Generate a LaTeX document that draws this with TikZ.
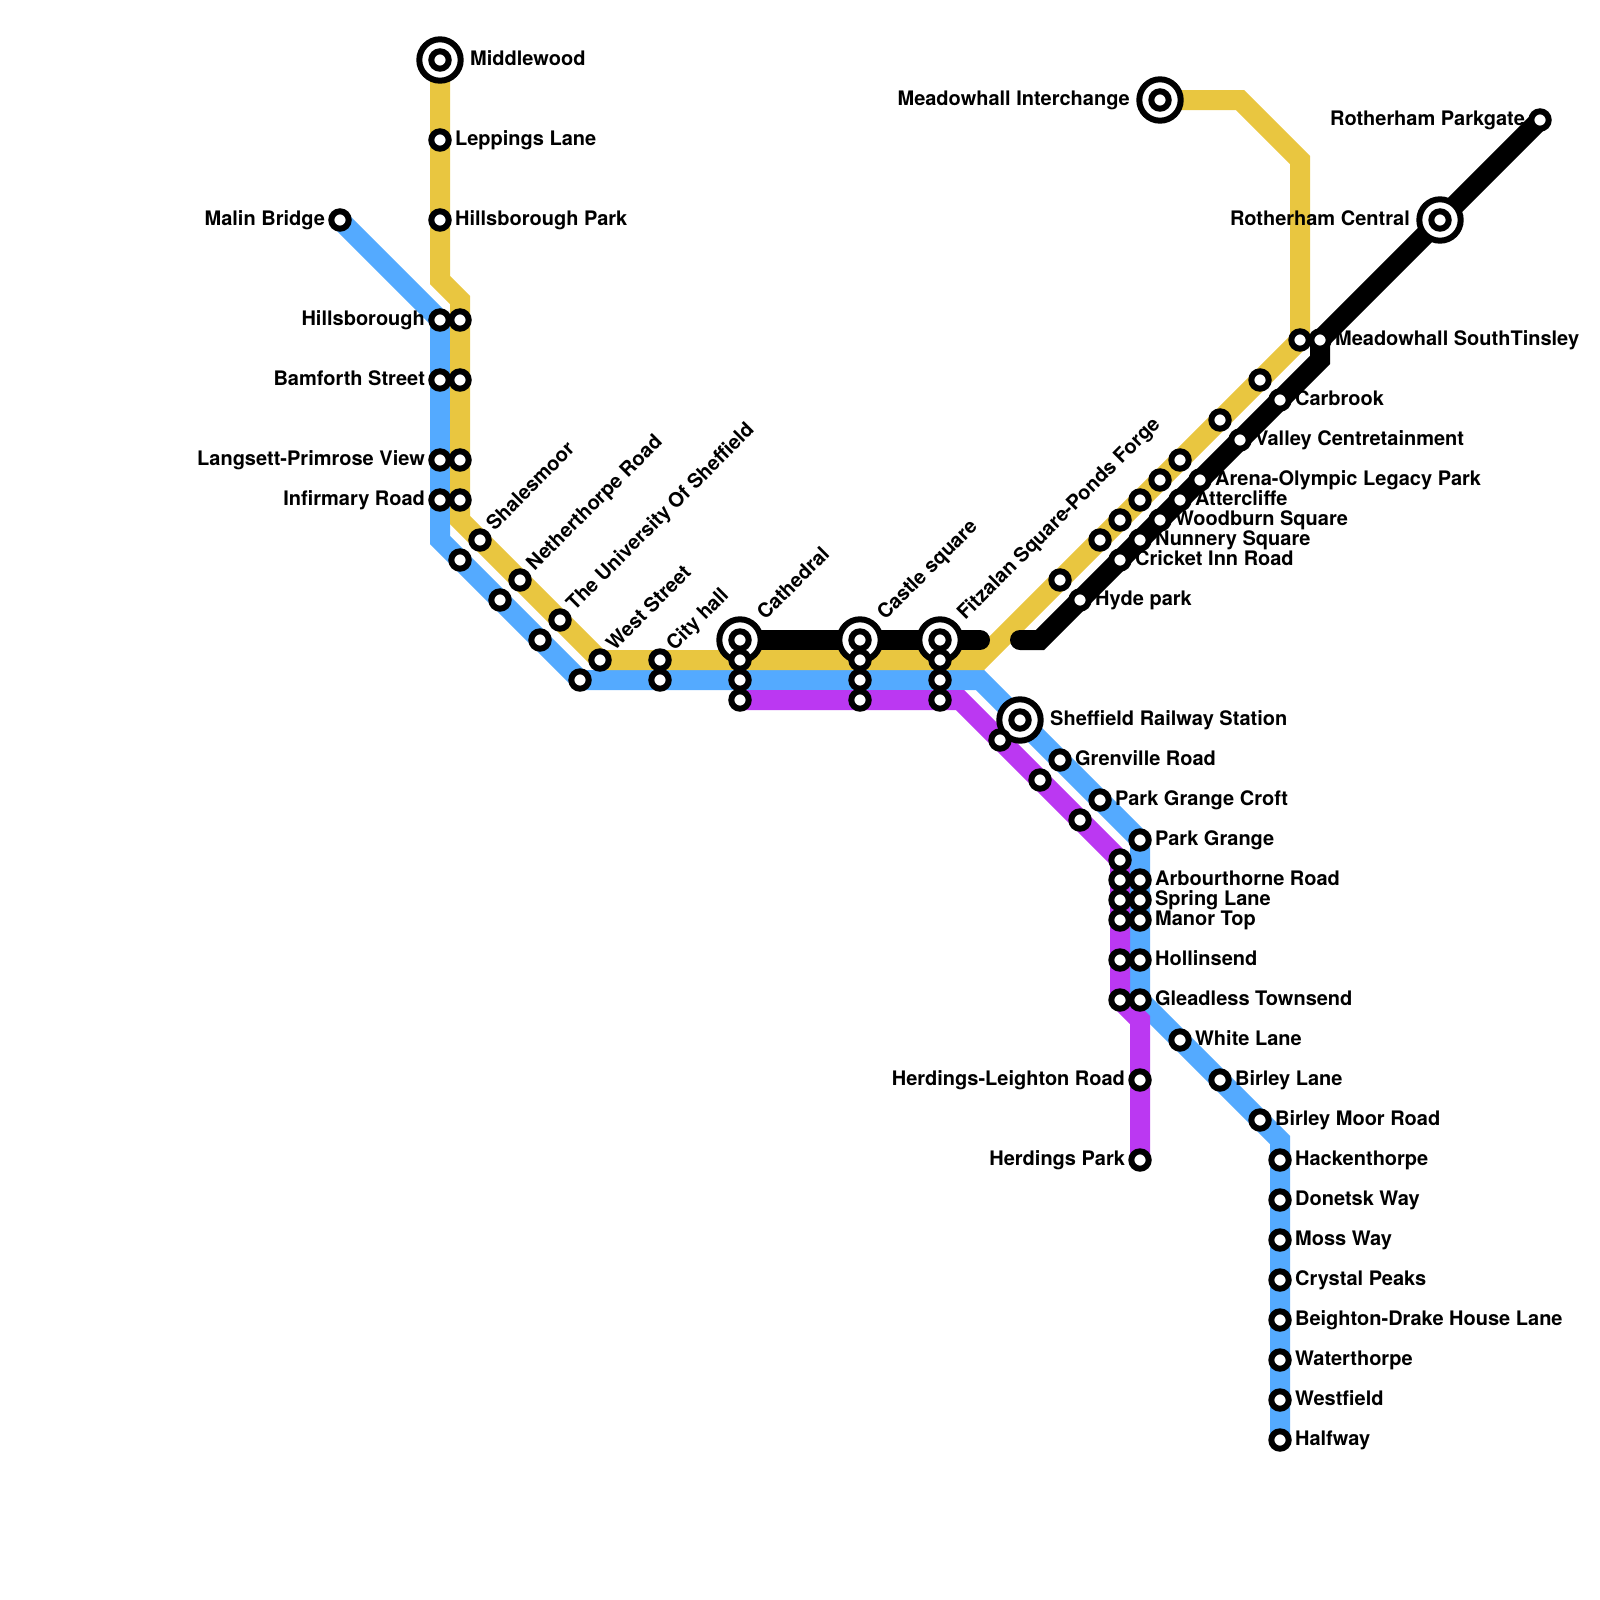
\documentclass[tikz,border=0pt]{standalone}
\usepackage{xcolor}
\usepackage{fontspec}
\setmainfont{TeX Gyre Heros}
\usetikzlibrary{backgrounds}
\definecolor{myyellow}{RGB}{233,198,64}
\definecolor{myblue}{RGB}{84,170,255}
\definecolor{mypurple}{RGB}{187,56,242}
\tikzset{
  lbl/.style={font=\fontsize{14.23}{16}\selectfont\bfseries, inner sep=0pt, text height=3.75mm, text depth=1mm},
  stn/.style={circle, draw=black, fill=white, line width=1.5mm, minimum size=4.35mm, inner sep=0pt},
  hub/.style={circle, draw=black, fill=white, line width=1.5mm, minimum size=10.35mm, inner sep=0pt, outer sep=1.52mm},
  lr/.style={label={[lbl]right:#1}},
  ll/.style={label={[lbl]left:#1}},
  lu/.style={label={[lbl, rotate=45, anchor=west, xshift=0.55mm, yshift=-0.25mm]45:#1}},
  route/.style={line width=5mm, line join=miter, line cap=round}
}

\begin{document}
\begin{tikzpicture}[x=0.5cm, y=-0.5cm, label distance=0.78mm]
  \useasboundingbox (0,0) rectangle (80,80);

  % Interchanges
  \node[hub, lr={Middlewood}] (middlewood) at (22,3) {};
  \node[hub, ll={Meadowhall Interchange}] (meadowint) at (58,5) {};
  \node[hub, ll={Rotherham Central}] (rothcentral) at (72,11) {};
  \node[hub, lu={Cathedral}] (cathedral) at (37,32) {};
  \node[hub, lu={Castle square}] (castle) at (43,32) {};
  \node[hub, lu={Fitzalan Square-Ponds Forge}] (fitzalan) at (47,32) {};
  \node[hub, lr={Sheffield Railway Station}] (sheffield) at (51,36) {};
  \node[stn] (middlewoodc) at (22,3) {};
  \node[stn] (meadowintc) at (58,5) {};
  \node[stn] (rothcentralc) at (72,11) {};
  \node[stn] (cathedralc) at (37,32) {};
  \node[stn] (castlec) at (43,32) {};
  \node[stn] (fitzalanc) at (47,32) {};
  \node[stn] (sheffieldc) at (51,36) {};

  % Yellow stations
  \node[stn, lr={Leppings Lane}] (leppings) at (22,7) {};
  \node[stn, lr={Hillsborough Park}] (hillspark) at (22,11) {};
  \node[stn] (hillsy) at (23,16) {};
  \node[stn] (bamforthy) at (23,19) {};
  \node[stn] (langsetty) at (23,23) {};
  \node[stn] (infirmaryy) at (23,25) {};
  \node[stn, lu={Shalesmoor}] (shalesmoor) at (24,27) {};
  \node[stn, lu={Netherthorpe Road}] (netherthorpe) at (26,29) {};
  \node[stn, lu={The University Of Sheffield}] (university) at (28,31) {};
  \node[stn, lu={West Street}] (westst) at (30,33) {};
  \node[stn, lu={City hall}] (cityhall) at (33,33) {};
  \node[stn] (cathedraly) at (37,33) {};
  \node[stn] (castley) at (43,33) {};
  \node[stn] (fitzalany) at (47,33) {};
  \node[stn] (hydey) at (53,29) {};
  \node[stn] (crickety) at (55,27) {};
  \node[stn] (nunneryy) at (56,26) {};
  \node[stn] (woodburny) at (57,25) {};
  \node[stn] (attercliffey) at (58,24) {};
  \node[stn] (arenay) at (59,23) {};
  \node[stn] (valleyy) at (61,21) {};
  \node[stn] (carbrooky) at (63,19) {};
  \node[stn] (meadowsouthy) at (65,17) {};

  % Blue stations
  \node[stn, ll={Malin Bridge}] (malin) at (17,11) {};
  \node[stn, ll={Hillsborough}] (hills) at (22,16) {};
  \node[stn, ll={Bamforth Street}] (bamforth) at (22,19) {};
  \node[stn, ll={Langsett-Primrose View}] (langsett) at (22,23) {};
  \node[stn, ll={Infirmary Road}] (infirmary) at (22,25) {};
  \node[stn] (shalesmoorb) at (23,28) {};
  \node[stn] (netherthorpeb) at (25,30) {};
  \node[stn] (universityb) at (27,32) {};
  \node[stn] (weststb) at (29,34) {};
  \node[stn] (cityhallb) at (33,34) {};
  \node[stn] (cathedralb) at (37,34) {};
  \node[stn] (castleb) at (43,34) {};
  \node[stn] (fitzalanb) at (47,34) {};
  \node[stn, lr={Grenville Road}] (grenville) at (53,38) {};
  \node[stn, lr={Park Grange Croft}] (grangecroft) at (55,40) {};
  \node[stn, lr={Park Grange}] (parkgrange) at (57,42) {};
  \node[stn, lr={Arbourthorne Road}] (arbourthorne) at (57,44) {};
  \node[stn, lr={Spring Lane}] (spring) at (57,45) {};
  \node[stn, lr={Manor Top}] (manor) at (57,46) {};
  \node[stn, lr={Hollinsend}] (hollinsend) at (57,48) {};
  \node[stn, lr={Gleadless Townsend}] (gleadless) at (57,50) {};
  \node[stn, lr={White Lane}] (white) at (59,52) {};
  \node[stn, lr={Birley Lane}] (birley) at (61,54) {};
  \node[stn, lr={Birley Moor Road}] (birleymoor) at (63,56) {};
  \node[stn, lr={Hackenthorpe}] (hackenthorpe) at (64,58) {};
  \node[stn, lr={Donetsk Way}] (donetsk) at (64,60) {};
  \node[stn, lr={Moss Way}] (moss) at (64,62) {};
  \node[stn, lr={Crystal Peaks}] (crystal) at (64,64) {};
  \node[stn, lr={Beighton-Drake House Lane}] (beighton) at (64,66) {};
  \node[stn, lr={Waterthorpe}] (waterthorpe) at (64,68) {};
  \node[stn, lr={Westfield}] (westfield) at (64,70) {};
  \node[stn, lr={Halfway}] (halfway) at (64,72) {};

  % Purple stations
  \node[stn] (cathedralp) at (37,35) {};
  \node[stn] (castlep) at (43,35) {};
  \node[stn] (fitzalanp) at (47,35) {};
  \node[stn] (sheffieldp) at (50,37) {};
  \node[stn] (grenvillep) at (52,39) {};
  \node[stn] (grangecroftp) at (54,41) {};
  \node[stn] (parkgrangep) at (56,43) {};
  \node[stn] (arbourthornep) at (56,44) {};
  \node[stn] (springp) at (56,45) {};
  \node[stn] (manorp) at (56,46) {};
  \node[stn] (hollinsendp) at (56,48) {};
  \node[stn] (gleadlessp) at (56,50) {};
  \node[stn, ll={Herdings-Leighton Road}] (herdingsl) at (57,54) {};
  \node[stn, ll={Herdings Park}] (herdingsp) at (57,58) {};

  % Black stations
  \node[stn, ll={Rotherham Parkgate}] (parkgate) at (77,6) {};
  \node[stn, lr={Meadowhall SouthTinsley}] (meadowsouth) at (66,17) {};
  \node[stn, lr={Carbrook}] (carbrook) at (64,20) {};
  \node[stn, lr={Valley Centretainment}] (valley) at (62,22) {};
  \node[stn, lr={Arena-Olympic Legacy Park}] (arena) at (60,24) {};
  \node[stn, lr={Attercliffe}] (attercliffe) at (59,25) {};
  \node[stn, lr={Woodburn Square}] (woodburn) at (58,26) {};
  \node[stn, lr={Nunnery Square}] (nunnery) at (57,27) {};
  \node[stn, lr={Cricket Inn Road}] (cricket) at (56,28) {};
  \node[stn, lr={Hyde park}] (hyde) at (54,30) {};

  % Bends
  \coordinate (ybend1) at (22,14);
  \coordinate (ybend2) at (23,15);
  \coordinate (ybend3) at (23,26);
  \coordinate (ybend4) at (49,33);
  \coordinate (ybend5) at (65,8);
  \coordinate (ybend6) at (62,5);
  \coordinate (bbend1) at (22,27);
  \coordinate (bbend2) at (49,34);
  \coordinate (bbend3) at (64,57);
  \coordinate (pbend1) at (48,35);
  \coordinate (pbend2) at (57,51);
  \coordinate (kbend1) at (66,18);
  \coordinate (kbend2) at (52,32);
  \coordinate (kend1) at (51,32);
  \coordinate (kend2) at (49,32);

  \begin{scope}[on background layer]
    % Blue line
    \draw[route, myblue] (malin.center) -- (hills.center) -- (bamforth.center) -- (langsett.center) -- (infirmary.center)
      -- (bbend1) -- (shalesmoorb.center) -- (netherthorpeb.center) -- (universityb.center) -- (weststb.center)
      -- (cityhallb.center) -- (cathedralb.center) -- (castleb.center) -- (fitzalanb.center) -- (bbend2)
      -- (sheffield.center) -- (grenville.center) -- (grangecroft.center) -- (parkgrange.center)
      -- (arbourthorne.center) -- (spring.center) -- (manor.center) -- (hollinsend.center) -- (gleadless.center)
      -- (white.center) -- (birley.center) -- (birleymoor.center) -- (bbend3) -- (hackenthorpe.center)
      -- (donetsk.center) -- (moss.center) -- (crystal.center) -- (beighton.center) -- (waterthorpe.center)
      -- (westfield.center) -- (halfway.center);

    % Yellow line
    \draw[route, myyellow] (middlewood.center) -- (leppings.center) -- (hillspark.center) -- (ybend1) -- (ybend2)
      -- (hillsy.center) -- (bamforthy.center) -- (langsetty.center) -- (infirmaryy.center) -- (ybend3)
      -- (shalesmoor.center) -- (netherthorpe.center) -- (university.center) -- (westst.center)
      -- (cityhall.center) -- (cathedraly.center) -- (castley.center) -- (fitzalany.center) -- (ybend4)
      -- (hydey.center) -- (crickety.center) -- (nunneryy.center) -- (woodburny.center) -- (attercliffey.center)
      -- (arenay.center) -- (valleyy.center) -- (carbrooky.center) -- (meadowsouthy.center)
      -- (ybend5) -- (ybend6) -- (meadowint.center);

    % Purple line
    \draw[route, mypurple] (cathedralp.center) -- (castlep.center) -- (fitzalanp.center) -- (pbend1)
      -- (sheffieldp.center) -- (grenvillep.center) -- (grangecroftp.center) -- (parkgrangep.center)
      -- (arbourthornep.center) -- (springp.center) -- (manorp.center) -- (hollinsendp.center) -- (gleadlessp.center)
      -- (pbend2) -- (herdingsl.center) -- (herdingsp.center);

    % Black line
    \draw[route, black] (parkgate.center) -- (rothcentral.center) -- (meadowsouth.center) -- (kbend1)
      -- (carbrook.center) -- (valley.center) -- (arena.center) -- (attercliffe.center) -- (woodburn.center)
      -- (nunnery.center) -- (cricket.center) -- (hyde.center) -- (kbend2) -- (kend1);
    \draw[route, black] (cathedral.center) -- (castle.center) -- (fitzalan.center) -- (kend2);
  \end{scope}
\end{tikzpicture}
\end{document}
